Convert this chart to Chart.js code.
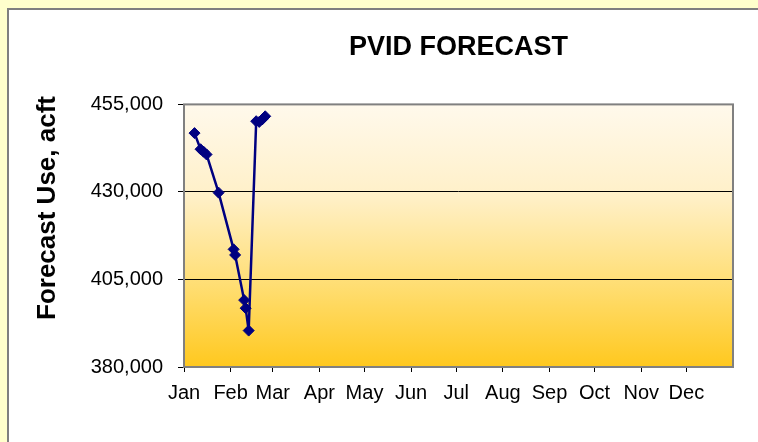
<!DOCTYPE html>
<html>
<head>
<meta charset="utf-8">
<title>PVID Forecast</title>
<script src="https://cdn.jsdelivr.net/npm/chart.js@4.4.0/dist/chart.umd.min.js"></script>
<style>
    html, body { margin: 0; padding: 0; background: #FFFFCC; overflow: hidden; }
    #box { position: absolute; left: 7px; top: 8px; width: 760px; height: 440px; background: #fff; border: 2px solid #7f7f7f; }
    #wrap { position: absolute; left: 0; top: 0; width: 758px; height: 442px; }
</style>
</head>
<body>
<div id="box"></div>
<div id="wrap"><canvas id="chart" width="758" height="442"></canvas></div>
<script>
"use strict";

// Axis categories
var monthNames = ["Jan", "Feb", "Mar", "Apr", "May", "Jun", "Jul", "Aug", "Sep", "Oct", "Nov", "Dec"];
var monthStart = [0, 31, 59, 90, 120, 151, 181, 212, 243, 273, 304, 334];
var yearLength = 365;

// Forecast series (date, acre-feet)
var forecastDates = ["Jan 8", "Jan 12", "Jan 14", "Jan 16", "Jan 24", "Feb 3", "Feb 4",
                     "Feb 10", "Feb 11", "Feb 13", "Feb 18", "Feb 20", "Feb 22", "Feb 24"];
var forecastUse = [446800, 442200, 441500, 440700, 429800, 413600, 412000,
                   399100, 396800, 390400, 450200, 450000, 450700, 451600];

// Y axis
var yMin = 380000;
var yMax = 455000;
var yStep = 25000;

// "Feb 13" -> day of year (Jan 1 = 0)
function dayOfYear(label) {
    var parts = label.split(" ");
    return monthStart[monthNames.indexOf(parts[0])] + Number(parts[1]) - 1;
}

var points = forecastDates.map(function (d, i) {
    return { x: dayOfYear(d), y: forecastUse[i] };
});

// Plot background, frame and vertical axis title
var chartDecor = {
    id: "chartDecor",
    beforeDraw: function (chart) {
        var a = chart.chartArea, ctx = chart.ctx;
        var g = ctx.createLinearGradient(0, a.top, 0, a.bottom);
        g.addColorStop(0, "#FFF9EC");
        g.addColorStop(0.35, "#FFF0C8");
        g.addColorStop(0.7, "#FFDD70");
        g.addColorStop(1, "#FFC81E");
        ctx.save();
        ctx.fillStyle = g;
        ctx.fillRect(a.left, a.top, a.right - a.left, a.bottom - a.top);
        ctx.restore();
    },
    beforeDatasetsDraw: function (chart) {
        var a = chart.chartArea, ctx = chart.ctx;
        ctx.save();
        ctx.strokeStyle = "#808080";
        ctx.lineWidth = 2;
        ctx.strokeRect(a.left, a.top, a.right - a.left, a.bottom - a.top);
        ctx.restore();
    },
    afterDraw: function (chart) {
        var ctx = chart.ctx;
        ctx.save();
        ctx.translate(48, 208);
        ctx.rotate(-Math.PI / 2);
        ctx.font = "bold 26px 'Liberation Sans', Arial, sans-serif";
        ctx.fillStyle = "#000";
        ctx.textAlign = "center";
        ctx.textBaseline = "middle";
        ctx.fillText("Forecast Use, acft", 0, 0);
        ctx.restore();
    }
};

var tickFont = { family: "'Liberation Sans', Arial, sans-serif", size: 20 };

new Chart(document.getElementById("chart"), {
    type: "line",
    data: {
        datasets: [{
            label: "PVID Forecast",
            data: points,
            borderColor: "#000080",
            borderWidth: 2.5,
            pointStyle: "rectRot",
            pointRadius: 5.5,
            pointBackgroundColor: "#000080",
            pointBorderColor: "#000080",
            pointBorderWidth: 1,
            tension: 0,
            fill: false
        }]
    },
    options: {
        responsive: false,
        animation: false,
        devicePixelRatio: 1,
        layout: { padding: { top: 9, right: 25, left: 0, bottom: 0 } },
        plugins: {
            legend: { display: false },
            tooltip: { enabled: false },
            title: {
                display: true,
                text: "PVID FORECAST",
                fullSize: false,
                color: "#000",
                font: { family: "'Liberation Sans', Arial, sans-serif", size: 27, weight: "bold" },
                padding: { top: 22, bottom: 41 }
            }
        },
        scales: {
            x: {
                type: "linear",
                min: 0,
                max: yearLength,
                afterBuildTicks: function (scale) {
                    scale.ticks = monthStart.map(function (v) { return { value: v }; });
                },
                afterFit: function (scale) { scale.height = 75; },
                ticks: {
                    autoSkip: false,
                    maxRotation: 0,
                    color: "#000",
                    font: tickFont,
                    padding: 9,
                    callback: function (value) { return monthNames[monthStart.indexOf(value)]; }
                },
                grid: { drawOnChartArea: false, drawTicks: true, tickLength: 5, tickColor: "#000" },
                border: { display: false }
            },
            y: {
                min: yMin,
                max: yMax,
                afterFit: function (scale) { scale.width = 184; },
                ticks: {
                    stepSize: yStep,
                    color: "#000",
                    font: tickFont,
                    padding: 15,
                    callback: function (value) { return value.toLocaleString("en-US"); }
                },
                grid: { color: "#000", lineWidth: 1, drawTicks: true, tickLength: 6, tickColor: "#000" },
                border: { display: false }
            }
        }
    },
    plugins: [chartDecor]
});
</script>
</body>
</html>
